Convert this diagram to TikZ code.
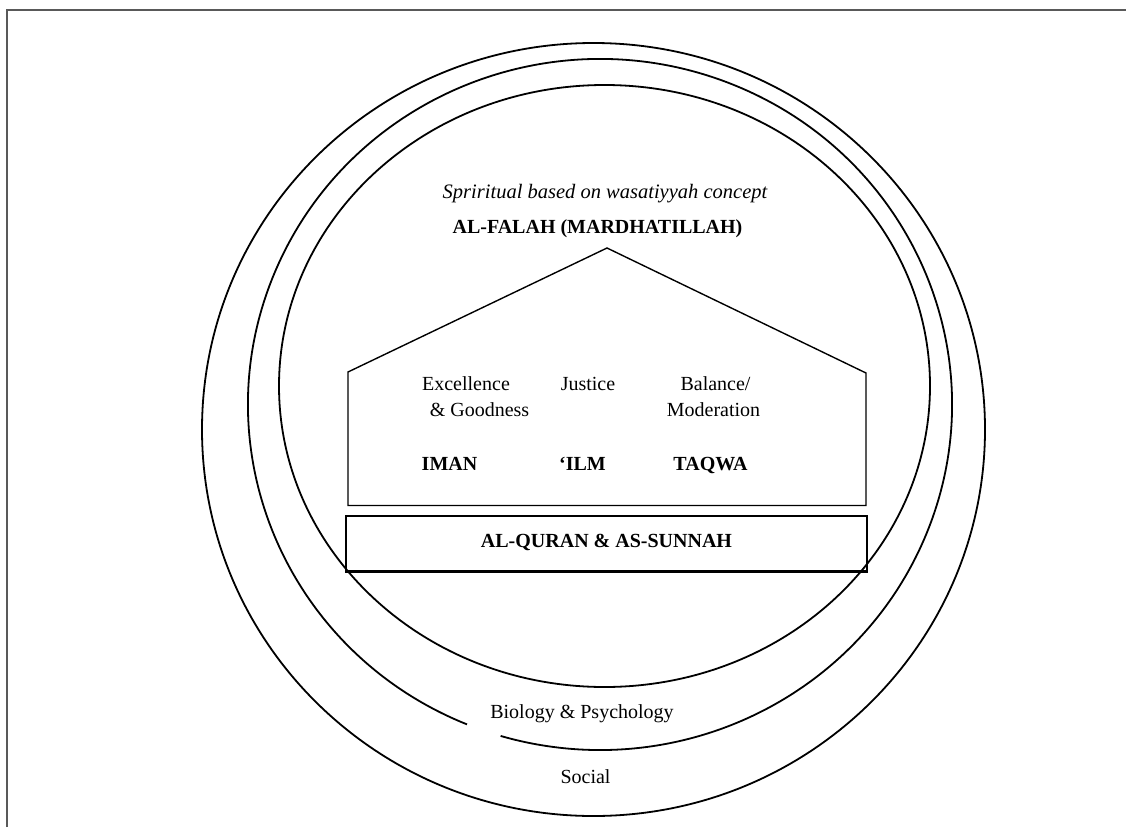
\documentclass[tikz,border=0pt]{standalone}
\usepackage{fontspec}
\setmainfont{Liberation Serif}
\begin{document}
\begin{tikzpicture}[x=1pt,y=-1pt,
  ring/.style={line width=1.8pt, black},
  wall/.style={line width=1.4pt, black, line join=miter},
  lbl/.style={font=\fontsize{20}{24}\selectfont, inner sep=0pt, anchor=base},
  blbl/.style={lbl, font=\fontsize{20}{24}\selectfont\bfseries},
  ilbl/.style={lbl, font=\fontsize{20.5}{24}\selectfont\itshape},
]
\useasboundingbox (0,0) rectangle (1126,827);

% page frame (left and top edges)
\draw[line width=2pt, black!65] (7,827) -- (7,10) -- (1126,10);

% outer ring: social
\draw[ring] (593.5,429.5) ellipse[x radius=391.5, y radius=386.5];
% middle ring: biology & psychology, open at the lower left
\draw[ring] ([shift={(112.2:352 and 345.5)}]600,404.5)
  arc[start angle=112.2, end angle=466.4, x radius=352, y radius=345.5];
% inner ring: spiritual
\draw[ring] (604.5,386) ellipse[x radius=325.5, y radius=301];

% house
\draw[wall] (348,505.5) -- (348,372) -- (607,248) -- (866,373) -- (866,505.5) -- cycle;
% foundation
\node[draw, line width=2.2pt, minimum width=521pt, minimum height=55.5pt, inner sep=0pt]
  (base) at (606.5,543.75) {};

% labels
\node[ilbl] (spirit) at (605,198) {Spriritual based on wasatiyyah concept};
\node[blbl] (falah) at (597.5,233.5) {AL-FALAH (MARDHATILLAH)};

\node[lbl] (exc1) at (466,390) {Excellence};
\node[lbl] (exc2) at (479.5,416) {\& Goodness};
\node[lbl] (just) at (588,390) {Justice};
\node[lbl] (bal1) at (715.5,390) {Balance/};
\node[lbl] (bal2) at (713.5,416) {Moderation};

\node[blbl] (iman) at (449.5,470) {IMAN};
\node[blbl] (ilm) at (582.5,470) {‘ILM};
\node[blbl] (taqwa) at (710.5,470) {TAQWA};

\node[blbl] (quran) at (606.5,547.5) {AL-QURAN \& AS-SUNNAH};

\node[lbl] (bio) at (582,718) {Biology \& Psychology};
\node[lbl] (soc) at (585.5,783) {Social};
\end{tikzpicture}
\end{document}
